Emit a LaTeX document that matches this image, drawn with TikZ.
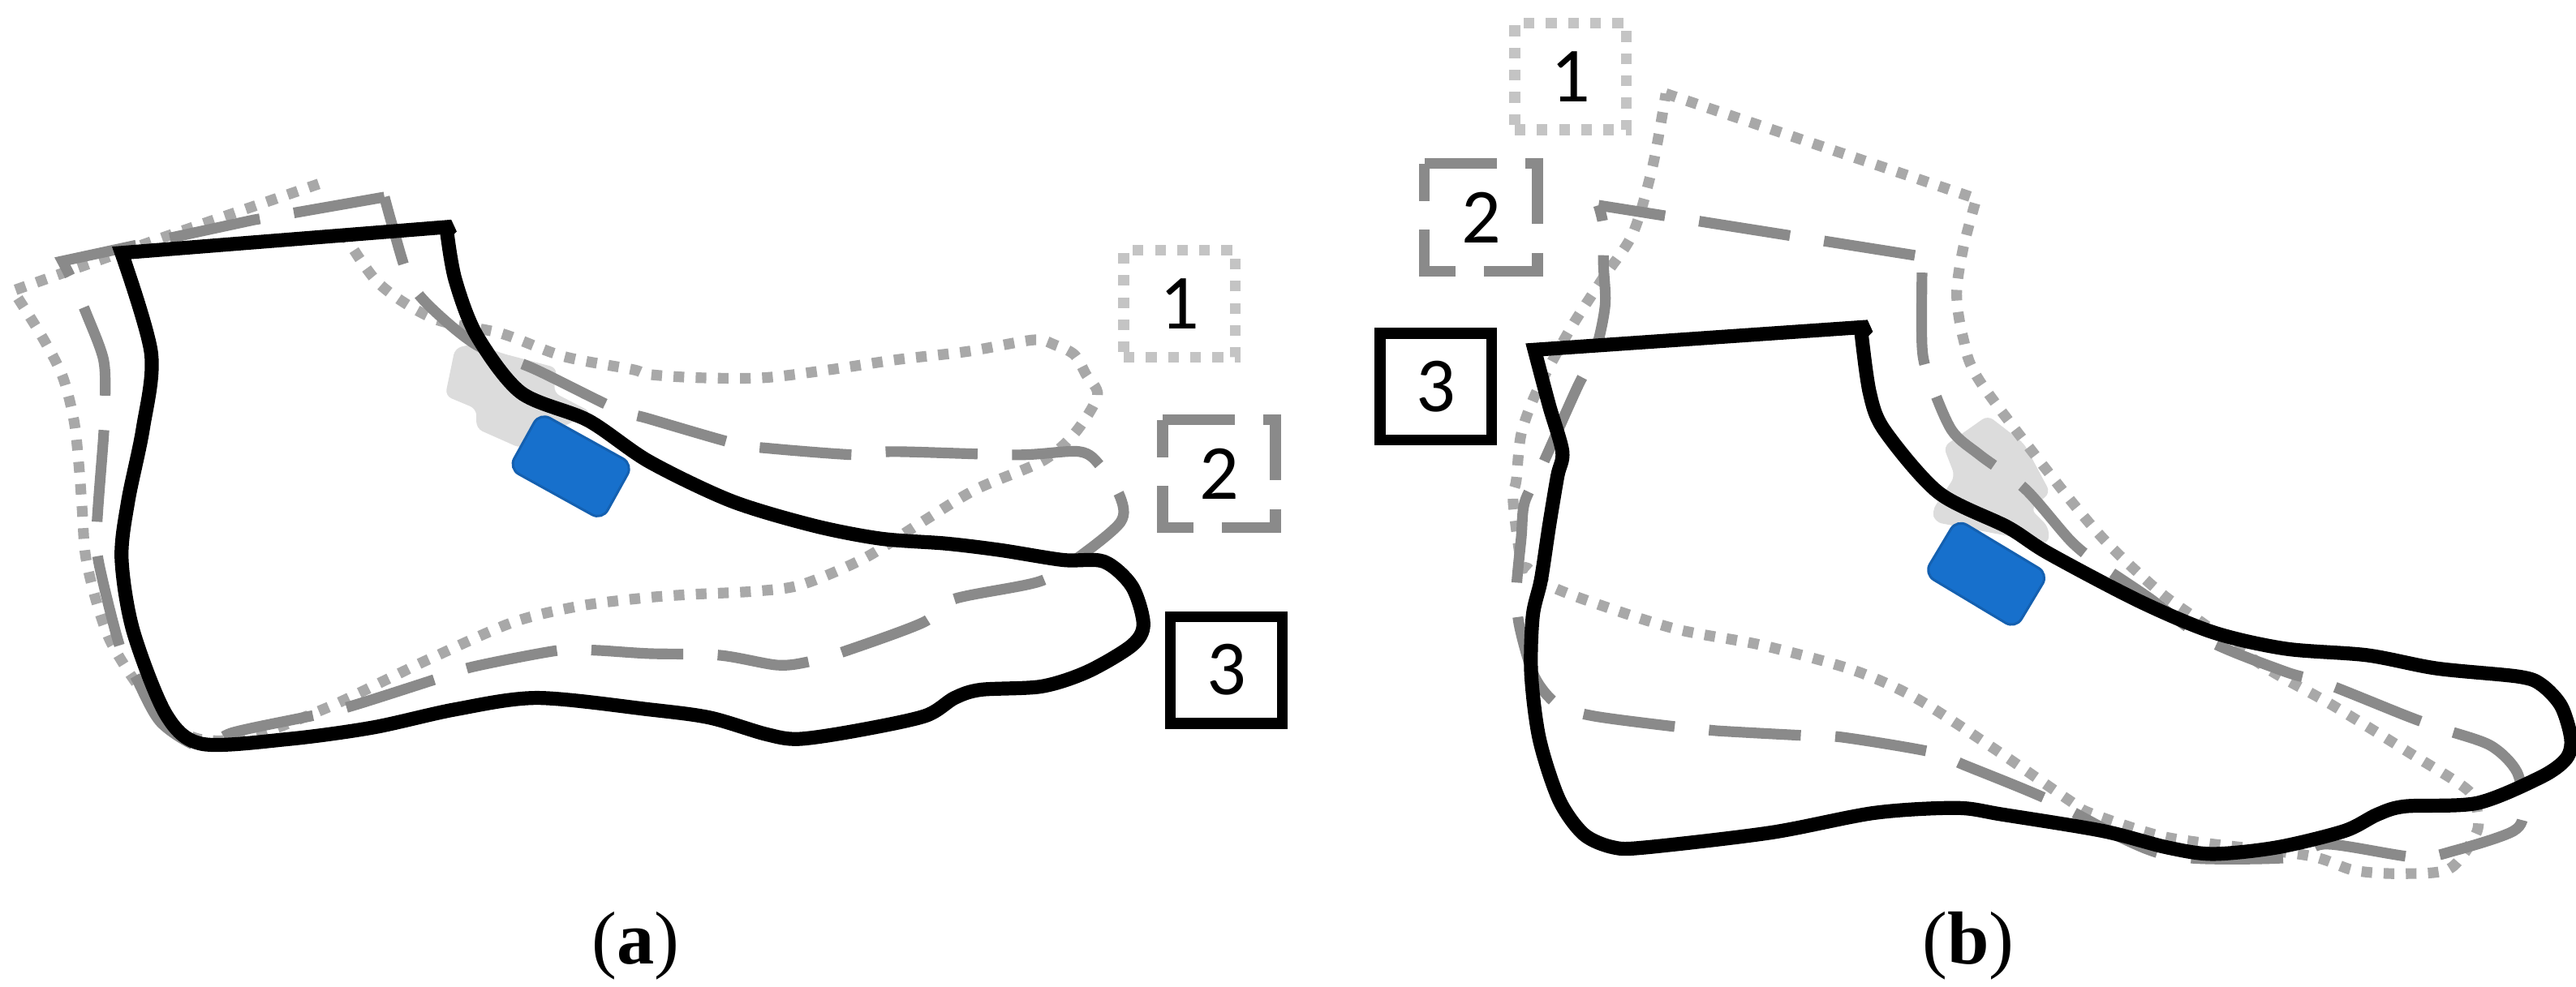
\documentclass[tikz,border=0pt]{standalone}
\usepackage{fontspec}
\setmainfont{Liberation Serif}
\newfontfamily\digitfont{Carlito}
\definecolor{sensorblue}{HTML}{1770CC}
\definecolor{sensoredge}{HTML}{1460B0}
\definecolor{blobgray}{HTML}{DCDCDC}
\definecolor{dashgray}{HTML}{8A8A8A}
\definecolor{dotgray}{HTML}{A8A8A8}
\definecolor{boxdot}{HTML}{C4C4C4}

\begin{document}
\begin{tikzpicture}[x=0.02cm,y=-0.02cm,
    solidline/.style={draw=black,line width=0.17cm,miter limit=2.5},
    dashline/.style={draw=dashgray,line width=0.13cm,dash pattern=on 1.12cm off 0.42cm},
    dotline/.style={draw=dotgray,line width=0.13cm,dash pattern=on 0.13cm off 0.14cm},
    blob/.style={fill=blobgray,rounded corners=0.08cm},
    sensor/.style={draw=sensoredge,line width=0.03cm,fill=sensorblue,rounded corners=0.14cm,minimum width=1.3cm,minimum height=0.78cm,inner sep=0pt},
    numbox/.style={inner sep=0pt,minimum width=1.36cm,minimum height=1.3cm,font=\digitfont\fontsize{27}{27}\selectfont},
    boxline/.style={draw=dashgray,line width=0.13cm,dash pattern=on 0.88cm off 0.35cm},
    capt/.style={inner sep=0pt,font=\fontsize{26}{26}\selectfont}]
        \useasboundingbox (0,0) rectangle (1568,601);

        \fill[blob] (277,212) -- (271,241) -- (290,249) -- (290,261) -- (317,273) -- (360,251) -- (337,239) -- (339,224) -- (305,215) -- (290,209) -- cycle;
        \fill[blob] (1210,253) -- (1183,272) -- (1190,290) -- (1176,311) -- (1178,318) -- (1247,331) -- (1247,321) -- (1236,310) -- (1248,300) -- (1232,270) -- cycle;

        \draw[dotline] (194,112) -- (101,144) -- (8,177) -- plot[smooth] coordinates {(8,177) (25,204) (38,229) (45,256) (48,283) (50,310) (52,338) (58,364) (67,390) (83,416) (101,438) (121,450) (151,449) (199,431) (237,413) (262,401) (312,379) (353,369) (393,364) (420,362) (460,360) (488,356) (526,340) (561,318) (594,298) (634,281) (654,264) (668,241) (661,228) (654,216) (642,210) (629,207) (589,214) (546,219) (506,225) (465,230) (425,230) (395,228) (385,225) (343,217) (305,203) (264,194) (230,172) (206,137)};
        \draw[dashline] (234,120) -- (154,134) -- (38,159) -- plot[smooth] coordinates {(38,159) (44,171) (53,192) (63,219) (64,244) (63,266) (59,320) (60,342) (73,394) (83,413) (98,440) (123,455) (142,446) (194,435) (217,429) (267,413) (288,406) (340,396) (363,396) (395,398) (438,399) (473,405) (492,403) (513,397) (562,379) (580,365) (633,354) (657,339) (682,318) (682,303) (670,284) (657,275) (619,277) (544,275) (521,277) (468,273) (447,270) (395,255) (375,249) (326,225) (290,210) (262,187) (249,170) (239,138) (234,120)};
        \draw[solidline] (74,154) -- (275,138) -- plot[smooth] coordinates {(272,141) (277,170) (290,204) (317,239) (358,256) (395,281) (445,305) (495,320) (536,328) (576,331) (609,335) (647,341) (672,342) (689,357) (696,380) (689,393) (662,409) (634,418) (597,420) (581,425) (563,436) (521,445) (486,450) (466,447) (432,437) (395,432) (327,425) (277,432) (227,443) (176,450) (123,453) (101,435) (81,384) (74,340) (78,305) (87,261) (92,215) (74,154)} -- cycle;
        \node[sensor,rotate=-29] (sensora) at (347.5,284) {};

        \node[numbox,draw=boxdot,line width=0.13cm,dash pattern=on 0.13cm off 0.14cm] (a1) at (718,185) {1};
        \node[numbox] (a2) at (742,288.5) {2};
        \draw[boxline] (a2.north west) -- (a2.north east) -- (a2.south east) -- (a2.south west) -- cycle;
        \node[numbox,draw=black,line width=0.13cm] (a3) at (746.5,408) {3};
        \node[capt] (capa) at (387,576) {(\textbf{a})};

        \draw[dotline] (1014,57) -- (1203,121) -- plot[smooth] coordinates {(1203,121) (1195,151) (1191,179) (1195,206) (1205,232) (1255,298) (1283,331) (1314,360) (1336,376) (1380,407) (1419,429) (1466,458) (1502,481) (1508,495) (1507,508) (1491,529) (1462,532) (1433,530) (1405,521) (1339,513) (1311,508) (1272,495) (1259,487) (1211,454) (1166,425) (1128,408) (1073,393) (1020,383) (967,366) (942,356) (930,346) (926,343) (921,305) (923,292) (926,264) (936,237) (956,200) (976,169) (994,142) (1006,101) (1014,57)};
        \draw[dashline,dash phase=0.3cm] (973,125) -- (1175,157) -- plot[smooth] coordinates {(1170,161) (1170,212) (1175,232) (1188,262) (1205,277) (1233,298) (1261,330) (1280,345) (1308,364) (1344,390) (1391,409) (1415,416) (1465,436) (1487,444) (1516,454) (1532,470) (1536,493) (1530,506) (1494,518) (1470,522) (1416,514) (1395,522) (1344,523) (1316,520) (1291,510) (1247,487) (1196,466) (1176,458) (1122,449) (1100,448) (1045,445) (1024,443) (970,436) (948,429) (934,412) (925,382) (923,360) (926,327) (928,306) (938,285) (960,236) (971,214) (977,186) (976,161) (976,138) (973,125)};
        \draw[solidline] (934,213) -- (1137,199) -- plot[smooth] coordinates {(1133,203) (1138,239) (1147,262) (1180,300) (1222,321) (1247,337) (1302,366) (1347,385) (1391,395) (1441,399) (1483,407) (1533,412) (1547,417) (1559,430) (1565,450) (1562,462) (1547,473) (1508,489) (1464,491) (1447,496) (1427,506) (1386,516) (1347,520) (1319,516) (1280,506) (1219,496) (1191,492) (1141,495) (1078,507) (1002,516) (982,516) (964,508) (949,487) (937,450) (932,410) (933,375) (938,353) (943,320) (948,290) (951,275) (943,247) (934,213)} -- cycle;
        \node[sensor,rotate=-31] (sensorb) at (1209,349.5) {};

        \node[numbox,draw=boxdot,line width=0.13cm,dash pattern=on 0.13cm off 0.14cm] (b1) at (956,46.5) {1};
        \node[numbox] (b2) at (901.5,132.5) {2};
        \draw[boxline] (b2.north west) -- (b2.north east) -- (b2.south east) -- (b2.south west) -- cycle;
        \node[numbox,draw=black,line width=0.13cm] (b3) at (874,235.5) {3};
        \node[capt] (capb) at (1198,576) {(\textbf{b})};
\end{tikzpicture}
\end{document}
